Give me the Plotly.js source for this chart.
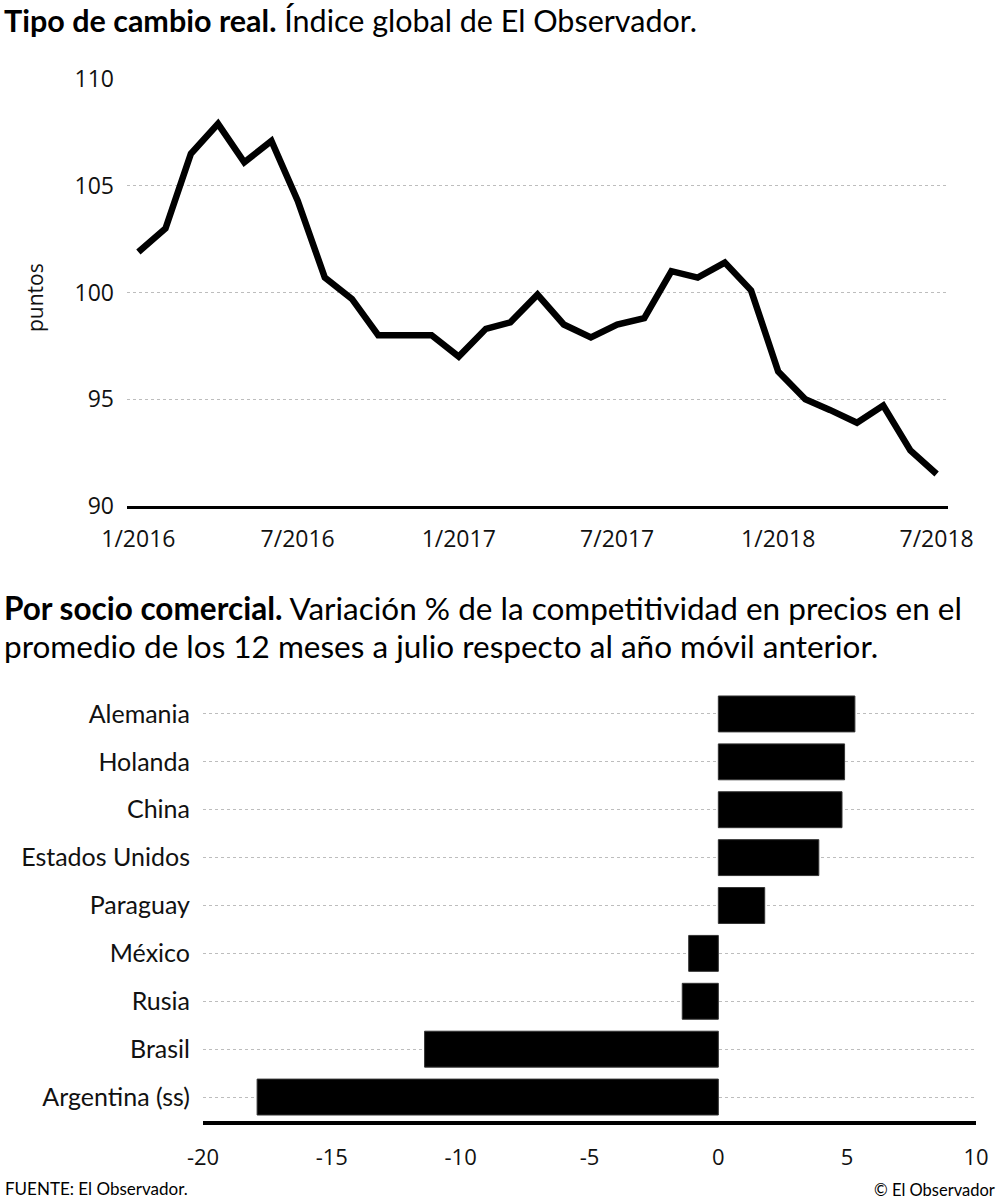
<!DOCTYPE html>
<html>
<head>
<meta charset="utf-8">
<script src="https://cdn.plot.ly/plotly-3.0.1.min.js"></script>
<style>
html,body{margin:0;padding:0;background:#fff;}
#chart{width:1000px;height:1201px;}
</style>
</head>
<body>
<div id="chart"></div>
<script>
// ---- Top chart: real exchange rate index (monthly) ----
const months = [
  '2016-01-01','2016-02-01','2016-03-01','2016-04-01','2016-05-01','2016-06-01',
  '2016-07-01','2016-08-01','2016-09-01','2016-10-01','2016-11-01','2016-12-01',
  '2017-01-01','2017-02-01','2017-03-01','2017-04-01','2017-05-01','2017-06-01',
  '2017-07-01','2017-08-01','2017-09-01','2017-10-01','2017-11-01','2017-12-01',
  '2018-01-01','2018-02-01','2018-03-01','2018-04-01','2018-05-01','2018-06-01',
  '2018-07-01'
];
const indexValues = [
  101.9, 103.0, 106.5, 107.9, 106.1, 107.1,
  104.3, 100.7, 99.7, 98.0, 98.0, 98.0,
  97.0, 98.3, 98.6, 99.9, 98.5, 97.9,
  98.5, 98.8, 101.0, 100.7, 101.4, 100.1,
  96.3, 95.0, 94.5, 93.9, 94.7, 92.6,
  91.5
];
const yTicks = [90, 95, 100, 105, 110];

// ---- Bottom chart: by trading partner ----
const partners = ['Alemania','Holanda','China','Estados Unidos','Paraguay','México','Rusia','Brasil','Argentina (ss)'];
const partnerChange = [5.3, 4.9, 4.8, 3.9, 1.8, -1.15, -1.4, -11.4, -17.9];
const xTicks2 = [-20, -15, -10, -5, 0, 5, 10];
const xTickText2 = ['-20', '-15', '-10', '-5', '0', '5', '10'];

const H = 1201, W = 1000;
const py = v => 1 - v / H;
const px = v => v / W;

const labelFont = 'Lato, "Open Sans", sans-serif';
const tickFont = '"Open Sans", "Noto Sans", sans-serif';

const traces = [
  {
    type: 'scatter', mode: 'lines',
    x: months, y: indexValues,
    xaxis: 'x', yaxis: 'y',
    line: {color: '#000', width: 6.5, shape: 'linear'},
    hoverinfo: 'x+y', showlegend: false
  },
  {
    type: 'bar', orientation: 'h',
    x: partnerChange, y: partners,
    xaxis: 'x2', yaxis: 'y2',
    marker: {color: '#000', line: {color: '#333', width: 1}},
    width: 0.75,
    showlegend: false
  }
];

const layout = {
  width: W, height: H,
  margin: {l: 0, r: 0, t: 0, b: 0},
  paper_bgcolor: '#fff', plot_bgcolor: '#fff',
  showlegend: false,
  xaxis: {
    domain: [px(127), px(948)],
    type: 'date',
    range: ['2015-12-19', '2018-07-14'],
    tick0: '2016-01-01', dtick: 'M6',
    tickformat: '%-m/%Y',
    showgrid: false, zeroline: false,
    showline: true, linecolor: '#000', linewidth: 3,
    ticks: '', ticklabelstandoff: 10,
    tickfont: {family: tickFont, size: 23, color: '#111'},
    anchor: 'y'
  },
  yaxis: {
    domain: [py(506), py(79)],
    range: [90, 110],
    tickvals: yTicks,
    showgrid: true, gridcolor: '#bdbdbd', gridwidth: 1, griddash: 'dot',
    zeroline: false, showline: false,
    ticks: '', ticklabelstandoff: 12,
    tickfont: {family: tickFont, size: 23, color: '#111'},
    anchor: 'x'
  },
  xaxis2: {
    domain: [px(203), px(976)],
    range: [-20, 10],
    tickvals: xTicks2, ticktext: xTickText2,
    showgrid: false, zeroline: false,
    showline: true, linecolor: '#000', linewidth: 4,
    ticks: '', ticklabelstandoff: 14,
    tickfont: {family: tickFont, size: 22, color: '#111'},
    anchor: 'y2'
  },
  yaxis2: {
    domain: [py(1121), py(690)],
    type: 'category',
    autorange: 'reversed',
    showgrid: true, gridcolor: '#bdbdbd', gridwidth: 1, griddash: 'dot',
    zeroline: false, showline: false,
    ticks: '', ticklabelstandoff: 12,
    tickfont: {family: labelFont, size: 25, color: '#111'},
    anchor: 'x2'
  },
  annotations: [
    {
      xref: 'paper', yref: 'paper', x: px(2), y: py(20),
      xanchor: 'left', yanchor: 'middle', showarrow: false,
      text: '<b>Tipo de cambio real.</b> Índice global de El Observador.',
      font: {family: labelFont, size: 30.5, color: '#000'}
    },
    {
      xref: 'paper', yref: 'paper', x: px(35), y: py(298),
      xanchor: 'center', yanchor: 'middle', showarrow: false, textangle: -90,
      text: 'puntos',
      font: {family: tickFont, size: 21, color: '#111'}
    },
    {
      xref: 'paper', yref: 'paper', x: px(2), y: py(608),
      xanchor: 'left', yanchor: 'middle', align: 'left', showarrow: false,
      text: '<b>Por socio comercial.</b> Variación % de la competitividad en precios en el',
      font: {family: labelFont, size: 31.5, color: '#000'}
    },
    {
      xref: 'paper', yref: 'paper', x: px(2), y: py(646),
      xanchor: 'left', yanchor: 'middle', align: 'left', showarrow: false,
      text: 'promedio de los 12 meses a julio respecto al año móvil anterior.',
      font: {family: labelFont, size: 31.5, color: '#000'}
    },
    {
      xref: 'paper', yref: 'paper', x: px(3), y: py(1188),
      xanchor: 'left', yanchor: 'middle', showarrow: false,
      text: 'FUENTE: El Observador.',
      font: {family: labelFont, size: 17, color: '#000'}
    },
    {
      xref: 'paper', yref: 'paper', x: px(997), y: py(1190),
      xanchor: 'right', yanchor: 'middle', showarrow: false,
      text: '© El Observador',
      font: {family: labelFont, size: 16.5, color: '#000'}
    }
  ]
};

Plotly.newPlot('chart', traces, layout, {displayModeBar: false, staticPlot: true});
</script>
</body>
</html>
